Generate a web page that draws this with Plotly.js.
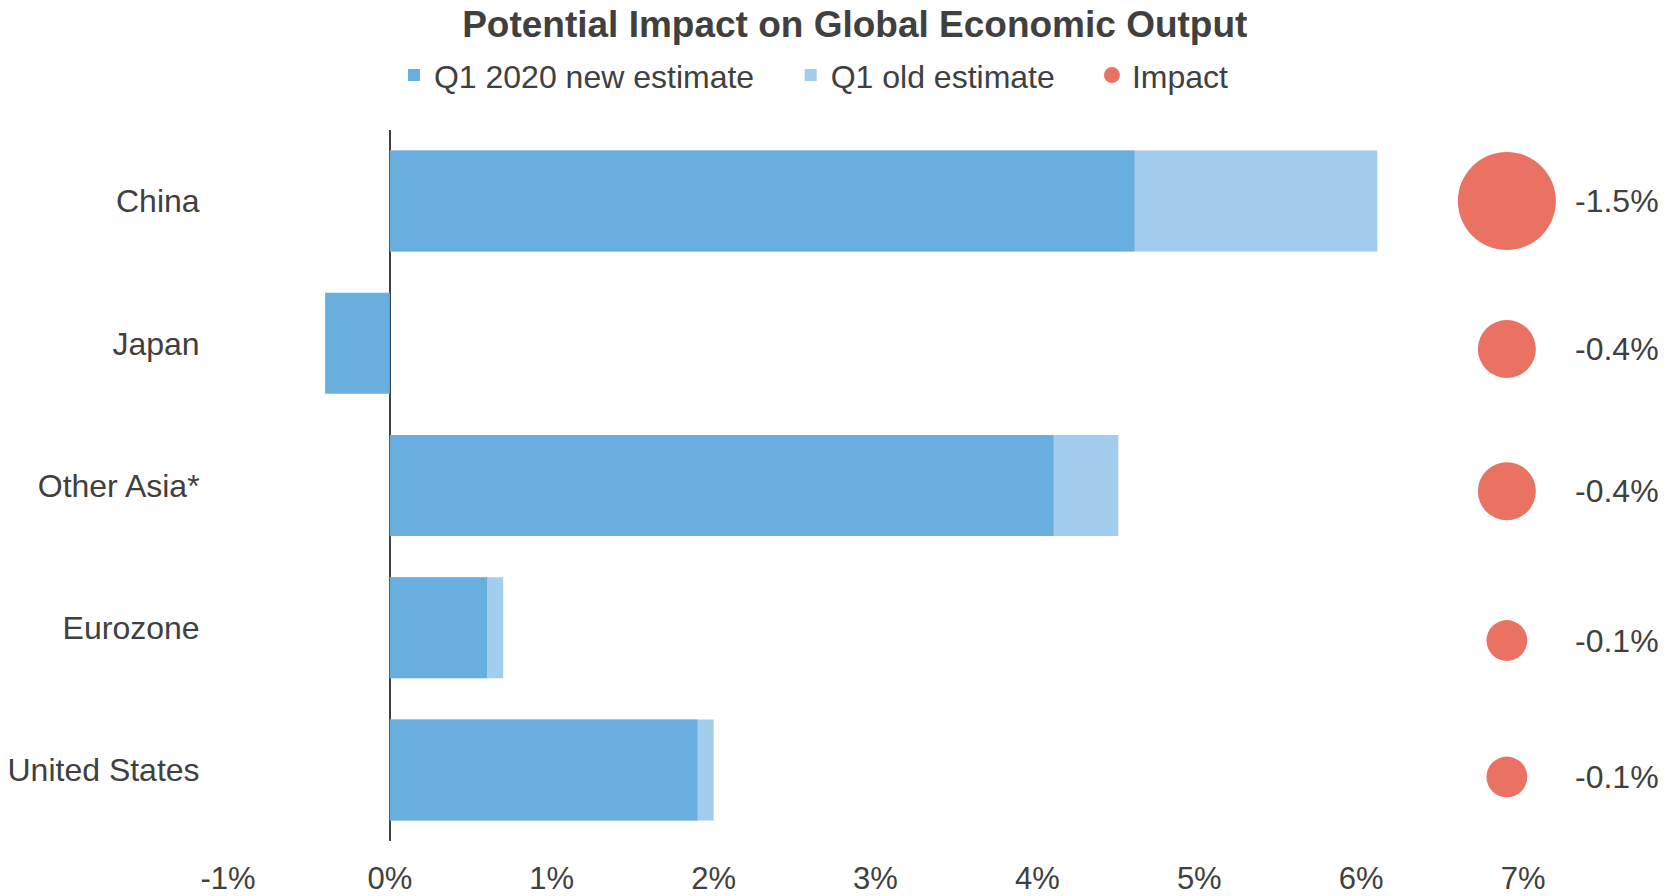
<!DOCTYPE html>
<html>
<head>
<meta charset="utf-8">
<script src="https://cdn.plot.ly/plotly-3.0.1.min.js"></script>
<style>
  html, body { margin: 0; padding: 0; background: #ffffff; }
  #chart { width: 1676px; height: 896px; }
</style>
</head>
<body>
<div id="chart"></div>
<script>
// ---- data ----
const regions = ["China", "Japan", "Other Asia*", "Eurozone", "United States"];
const newEstimate = [4.6, -0.4, 4.1, 0.6, 1.9];   // Q1 2020 new estimate, %
const oldEstimate = [6.1, 0.0, 4.5, 0.7, 2.0];    // Q1 old estimate, %
const impact = [-1.5, -0.4, -0.4, -0.1, -0.1];    // impact, %
const bubbleRow = [4.5, 3.46, 2.46, 1.41, 0.45];  // bubble row value on the bubble axis
const xTickVals = [-1, 0, 1, 2, 3, 4, 5, 6, 7];
const xTickText = ["-1%", "0%", "1%", "2%", "3%", "4%", "5%", "6%", "7%"];

// ---- styling ----
const FONT = '"Liberation Sans", Arial, Helvetica, sans-serif';
const TXT = '#404040';
const C_NEW = '#68AFE0';
const C_OLD = '#A3CDEC';
const C_IMP = '#E97262';
const BUBBLE_X = 6.9;
const LABEL_X = 7.31;

function bubbleDiameter(v) { return Math.sqrt(1100 + 5670 * Math.abs(v)); }
function pct(v) { return v.toFixed(1) + '%'; }

const traces = [
  {
    type: 'bar', orientation: 'h', name: 'Q1 old estimate',
    y: regions, x: oldEstimate, width: 0.71,
    marker: { color: C_OLD, line: { width: 0 } },
    legend: 'legend2', hoverinfo: 'x+y'
  },
  {
    type: 'bar', orientation: 'h', name: 'Q1 2020 new estimate',
    y: regions, x: newEstimate, width: 0.71,
    marker: { color: C_NEW, line: { width: 0 } },
    legend: 'legend', hoverinfo: 'x+y'
  },
  {
    type: 'scatter', mode: 'markers', name: 'Impact',
    x: regions.map(() => BUBBLE_X), y: bubbleRow, yaxis: 'y2',
    marker: { color: C_IMP, size: impact.map(bubbleDiameter), sizemode: 'diameter', line: { width: 0 }, opacity: 1 },
    cliponaxis: false, legend: 'legend3', text: impact.map(pct), hoverinfo: 'text'
  }
];

const impactLabels = impact.map((v, i) => ({
  xref: 'x', yref: 'y2', x: LABEL_X, y: bubbleRow[i],
  text: pct(v), showarrow: false, xanchor: 'left', yanchor: 'middle',
  font: { family: FONT, size: 32, color: TXT }
}));

const legendBase = {
  orientation: 'h', yanchor: 'middle', xanchor: 'left', y: 1.077,
  font: { family: FONT, size: 32, color: TXT },
  bgcolor: 'rgba(0,0,0,0)', borderwidth: 0
};

const layout = {
  width: 1676, height: 896,
  margin: { l: 228, r: 10, t: 130, b: 55 },
  paper_bgcolor: '#ffffff', plot_bgcolor: '#ffffff',
  font: { family: FONT, size: 32, color: TXT },
  barmode: 'overlay',
  title: {
    text: '<b>Potential Impact on Global Economic Output</b>',
    font: { family: FONT, size: 37, color: TXT },
    x: 0.51, xref: 'container', xanchor: 'center',
    y: 0.973, yref: 'container', yanchor: 'middle'
  },
  legend: Object.assign({}, legendBase, { x: 0.1154 }),
  legend2: Object.assign({}, legendBase, { x: 0.3913 }),
  legend3: Object.assign({}, legendBase, { x: 0.6008 }),
  annotations: impactLabels,
  xaxis: {
    range: [-1, 7.883], tickvals: xTickVals, ticktext: xTickText,
    showgrid: false, showline: false,
    zeroline: true, zerolinecolor: '#404040', zerolinewidth: 2,
    ticks: 'outside', ticklen: 0, ticklabelstandoff: 10,
    tickfont: { family: FONT, size: 31, color: TXT }, fixedrange: true
  },
  yaxis: {
    type: 'category', autorange: 'reversed',
    showgrid: false, showline: false, zeroline: false,
    ticks: 'outside', ticklen: 0, ticklabelstandoff: 21,
    tickfont: { family: FONT, size: 32, color: TXT }, fixedrange: true
  },
  yaxis2: {
    overlaying: 'y', range: [0, 5], visible: false, fixedrange: true
  },
  showlegend: true
};

Plotly.newPlot('chart', traces, layout, { displayModeBar: false, staticPlot: true });
</script>
</body>
</html>
